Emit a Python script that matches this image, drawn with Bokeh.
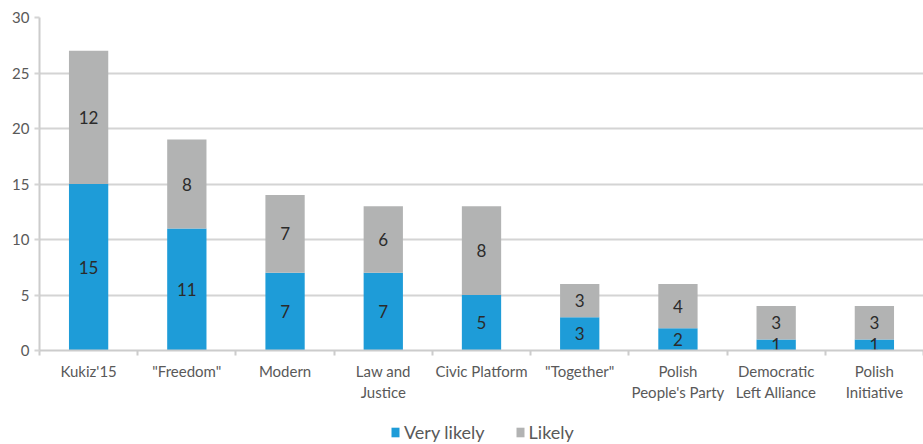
from bokeh.plotting import figure
from bokeh.layouts import column
from bokeh.models import ColumnDataSource, Range1d, FixedTicker, Legend, LegendItem
from bokeh.core.properties import value
from bokeh.embed import file_html
from bokeh.resources import INLINE

parties = ["Kukiz'15", "\"Freedom\"", "Modern", "Law and\nJustice", "Civic Platform",
           "\"Together\"", "Polish\nPeople's Party", "Democratic\nLeft Alliance", "Polish\nInitiative"]
very_likely = [15, 11, 7, 7, 5, 3, 2, 1, 1]
likely = [12, 8, 7, 6, 8, 3, 4, 3, 3]
series_names = ["Very likely", "Likely"]
colors = ["#1e9cd8", "#b2b3b3"]
y_ticks = [0, 5, 10, 15, 20, 25, 30]

FONT = "Lato"
n = len(parties)
xs = [i + 0.5 for i in range(n)]

src = ColumnDataSource(dict(
    x=xs, vl=very_likely, l=likely,
    vl_mid=[v / 2 for v in very_likely],
    l_mid=[v + w / 2 for v, w in zip(very_likely, likely)],
    vl_txt=[str(v) for v in very_likely],
    l_txt=[str(w) for w in likely],
))

p = figure(frame_width=884, frame_height=333, output_backend="svg", toolbar_location=None,
           x_range=Range1d(0, n), y_range=Range1d(0, 30),
           min_border_left=39, min_border_right=0, min_border_top=17, min_border_bottom=0)
p.outline_line_color = None
p.background_fill_color = "white"

r = p.vbar_stack(["vl", "l"], x="x", width=0.4, source=src, color=colors, line_color=None)

p.text(x="x", y="vl_mid", text="vl_txt", source=src, text_align="center", text_baseline="middle",
       text_font=value(FONT), text_font_size="17px", text_color="#2b2b2b")
p.text(x="x", y="l_mid", text="l_txt", source=src, text_align="center", text_baseline="middle",
       text_font=value(FONT), text_font_size="17px", text_color="#2b2b2b")

# axes
p.xgrid.visible = False
p.ygrid.grid_line_color = "#d4d4d4"
p.ygrid.grid_line_width = 2
p.ygrid.ticker = FixedTicker(ticks=y_ticks)

p.yaxis.ticker = FixedTicker(ticks=y_ticks)
p.yaxis.axis_line_color = "#cccccc"
p.yaxis.axis_line_width = 2
p.yaxis.major_tick_line_color = "#d4d4d4"
p.yaxis.major_tick_line_width = 2
p.yaxis.major_tick_out = 5
p.yaxis.major_tick_in = 0
p.yaxis.minor_tick_line_color = None
p.yaxis.major_label_text_font = FONT
p.yaxis.major_label_text_font_size = "15px"
p.yaxis.major_label_text_color = "#595959"
p.yaxis.major_label_standoff = 5

p.xaxis.ticker = FixedTicker(ticks=xs, minor_ticks=list(range(n + 1)))
p.xaxis.major_label_overrides = {x: lab for x, lab in zip(xs, parties)}
p.xaxis.axis_line_color = "#cccccc"
p.xaxis.axis_line_width = 2
p.xaxis.major_tick_line_color = None
p.xaxis.minor_tick_line_color = "#cccccc"
p.xaxis.minor_tick_line_width = 2
p.xaxis.minor_tick_out = 5
p.xaxis.minor_tick_in = 0
p.xaxis.major_label_text_font = FONT
p.xaxis.major_label_text_font_size = "15px"
p.xaxis.major_label_text_color = "#595959"
p.xaxis.major_label_standoff = 5

# legend strip as its own small figure below the chart
p2 = figure(width=923, height=40, output_backend="svg", toolbar_location=None,
            x_range=Range1d(0, 1), y_range=Range1d(0, 1), min_border=0)
p2.axis.visible = False
p2.grid.visible = False
p2.outline_line_color = None
# legend swatch renderers: one hidden point each, kept outside the visible range
dummies = [p2.rect(x=[-5], y=[-5], width=0.1, height=0.1, fill_color=c, line_color=None)
           for c in colors]

legend = Legend(items=[LegendItem(label=name, renderers=[d]) for name, d in zip(series_names, dummies)],
                orientation="horizontal", location=(351, 1),
                label_text_font=FONT, label_text_font_size="18px", label_text_color="#595959",
                glyph_width=10, glyph_height=12, spacing=30, border_line_color=None,
                background_fill_alpha=0,
                padding=2, margin=0, label_standoff=4)
p2.add_layout(legend, "center")

layout = column(p, p2, spacing=0)
open("out.html", "w").write(file_html(layout, INLINE))
